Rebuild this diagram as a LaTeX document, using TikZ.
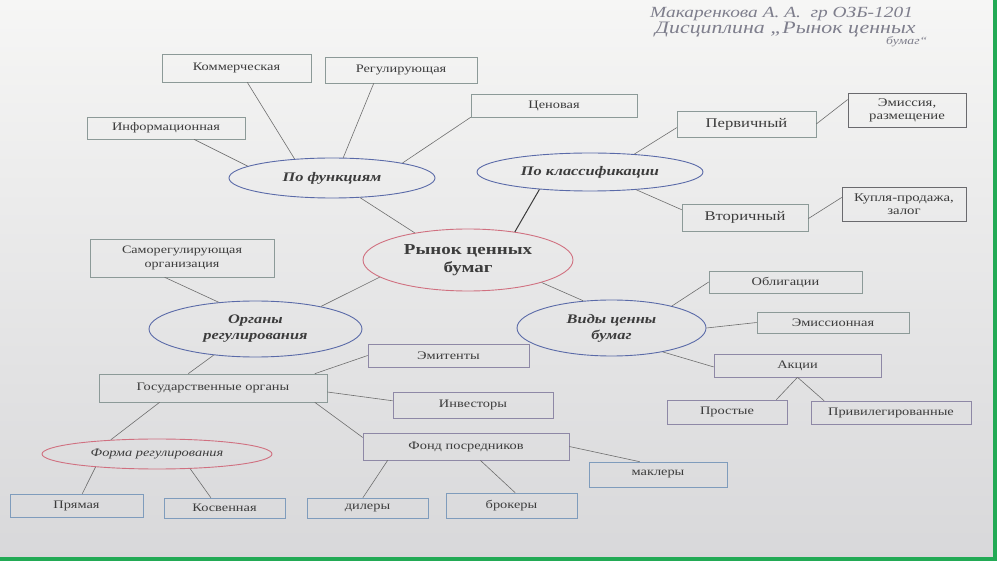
\documentclass[tikz,border=0pt]{standalone}
\usepackage{fontspec}
\setmainfont{Liberation Serif}[FakeStretch=1.25]
\usetikzlibrary{shapes.geometric}

\definecolor{paperlight}{HTML}{F6F6F5}
\definecolor{papermid}{HTML}{EDEDED}
\definecolor{paperdark}{HTML}{D8D8DA}
\definecolor{framegreen}{HTML}{22AA55}
\definecolor{boxgray}{HTML}{8C9A98}
\definecolor{boxdark}{HTML}{6A6A6E}
\definecolor{boxblue}{HTML}{7F9CBC}
\definecolor{boxlila}{HTML}{8E88A6}
\definecolor{ovalblue}{HTML}{5A6AA8}
\definecolor{ovalred}{HTML}{D07080}
\definecolor{ink}{HTML}{3C3C3C}
\definecolor{linegray}{HTML}{6E6E6E}
\definecolor{pencil}{HTML}{7E7E8C}

\tikzset{
  sz/.style 2 args={minimum width=#1pt,minimum height=#2pt},
  box/.style={rectangle,draw=boxgray,line width=0.6pt,inner sep=0pt,align=center,text=ink,font=\fontsize{11.5}{13}\selectfont},
  oval/.style={ellipse,draw=ovalblue,line width=0.9pt,inner sep=0pt,align=center,text=ink,font=\fontsize{13.1}{16}\selectfont\bfseries\itshape},
  wire/.style={draw=linegray,line width=0.6pt},
  hand/.style={anchor=west,text=pencil,inner sep=0pt,font=\fontsize{15.5}{16}\selectfont\itshape},
}

\begin{document}
\begin{tikzpicture}[x=1pt,y=-1pt]
    \useasboundingbox (0,0) rectangle (997,561);
    \shade[top color=paperlight,middle color=papermid,bottom color=paperdark] (0,0) rectangle (997,561);
    \fill[framegreen] (993,0) rectangle (997,561);
    \fill[framegreen] (0,557) rectangle (997,561);

    \node[hand] at (650,14) (Sign) {Макаренкова А. А. \ гр ОЗБ-1201};
    \node[hand,font=\fontsize{17.5}{17}\selectfont\itshape] at (655,30) (Disc) {Дисциплина „Рынок ценных};
    \node[hand,font=\fontsize{11}{11}\selectfont\itshape] at (886,42) (DiscEnd) {бумаг“};

    \node[oval,sz={206}{40}] at (332,178) (Fun) {По функциям};
    \node[oval,sz={226}{38}] at (590,172) (Kls) {По классификации};
    \node[oval,draw=ovalred,sz={210}{62},font=\fontsize{15.2}{18}\selectfont\bfseries] at (468,260) (Ryn) {Рынок ценных\\бумаг};
    \node[oval,sz={213}{56}] at (255.5,329) (Org) {Органы\\регулирования};
    \node[oval,sz={189}{56}] at (611.5,328) (Vid) {Виды ценны\\бумаг};
    \node[oval,draw=ovalred,sz={230}{30},font=\fontsize{11.5}{13}\selectfont\itshape] at (157,454) (Frm) {Форма регулирования};

    \node[box,sz={149}{28}] at (236.5,68) (Kom) {Коммерческая};
    \node[box,sz={152}{26}] at (401,70) (Reg) {Регулирующая};
    \node[box,sz={158}{22}] at (166,128) (Inf) {Информационная};
    \node[box,sz={166}{23}] at (554,105.5) (Cen) {Ценовая};
    \node[box,sz={139}{26},font=\fontsize{13.3}{15}\selectfont] at (746.5,124) (Per) {Первичный};
    \node[box,draw=boxdark,sz={118}{34},font=\fontsize{11.8}{13}\selectfont] at (907,110) (Ems) {Эмиссия,\\размещение};
    \node[box,sz={126}{27},font=\fontsize{13.3}{15}\selectfont] at (745,217.5) (Vto) {Вторичный};
    \node[box,draw=boxdark,sz={124}{34},font=\fontsize{11.8}{13}\selectfont] at (904,204) (Kup) {Купля-продажа,\\залог};
    \node[box,sz={184}{38},font=\fontsize{11.3}{14}\selectfont] at (182,258) (Sam) {Саморегулирующая\\организация};
    \node[box,draw=boxlila,sz={161}{23}] at (448.5,355.5) (Emt) {Эмитенты};
    \node[box,sz={228}{28}] at (213,388) (Gos) {Государственные органы};
    \node[box,draw=boxlila,sz={160}{26}] at (473,405) (Inv) {Инвесторы};
    \node[box,draw=boxlila,sz={206}{27}] at (466,446.5) (Fnd) {Фонд посредников};
    \node[box,draw=boxblue,sz={138}{25}] at (658,474.5) (Mak) {маклеры};
    \node[box,draw=boxblue,sz={133}{23}] at (76.5,505.5) (Pry) {Прямая};
    \node[box,draw=boxblue,sz={121}{20}] at (224.5,508) (Kos) {Косвенная};
    \node[box,draw=boxblue,sz={121}{20}] at (367.5,508) (Dil) {дилеры};
    \node[box,draw=boxblue,sz={131}{25}] at (511.5,505.5) (Bro) {брокеры};
    \node[box,sz={153}{22}] at (785.5,282) (Obl) {Облигации};
    \node[box,sz={152}{21}] at (833,322.5) (Emn) {Эмиссионная};
    \node[box,draw=boxlila,sz={167}{23}] at (797.5,365.5) (Akc) {Акции};
    \node[box,draw=boxlila,sz={120}{24}] at (727,412) (Pro) {Простые};
    \node[box,draw=boxlila,sz={160}{23}] at (891,412.5) (Pri) {Привилегированные};

    \draw[wire] (Inf.-22.2) to (Fun.172.8);
    \draw[wire] (Kom.-53.1) to (Fun.153.4);
    \draw[wire] (Reg.206.6) to (Fun.61.2);
    \draw[wire] (Cen.south west) to (Fun.12.4);
    \draw[wire] (Fun.-35.5) to (Ryn.153.9);
    \draw[wire,draw=ink,line width=1pt] (Kls.199.8) to (Ryn.31.5);
    \draw[wire] (Kls.22) to (Per.183);
    \draw[wire] (Per.east) to (Ems.170.4);
    \draw[wire] (Kls.-21.8) to (Vto.173.2);
    \draw[wire] (Vto.-1.4) to (Kup.174.5);
    \draw[wire] (Sam.228.2) to (Org.144);
    \draw[wire] (Org.19.6) to (Ryn.191.5);
    \draw[wire] (Ryn.-17.7) to (Vid.136.5);
    \draw[wire] (Org.212.4) to (Gos.150.8);
    \draw[wire] (Gos.8.5) to (Emt.west);
    \draw[wire] (Gos.-2) to (Inv.177.9);
    \draw[wire] (Gos.-8.7) to (Fnd.175.3);
    \draw[wire] (Gos.195.6) to (Frm.163.4);
    \draw[wire] (Frm.192.3) to (Pry.64.4);
    \draw[wire] (Frm.-24) to (Kos.143.5);
    \draw[wire] (Fnd.190.3) to (Dil.114.2);
    \draw[wire] (Fnd.-44) to (Bro.74.4);
    \draw[wire] (Fnd.east) to (Mak.145.2);
    \draw[wire] (Vid.20.8) to (Obl.west);
    \draw[wire] (Vid.east) to (Emn.west);
    \draw[wire] (Vid.-25.9) to (Akc.181.7);
    \draw[wire] (Akc.south) to (Pro.14.6);
    \draw[wire] (Akc.south) to (Pri.170.4);
\end{tikzpicture}
\end{document}
